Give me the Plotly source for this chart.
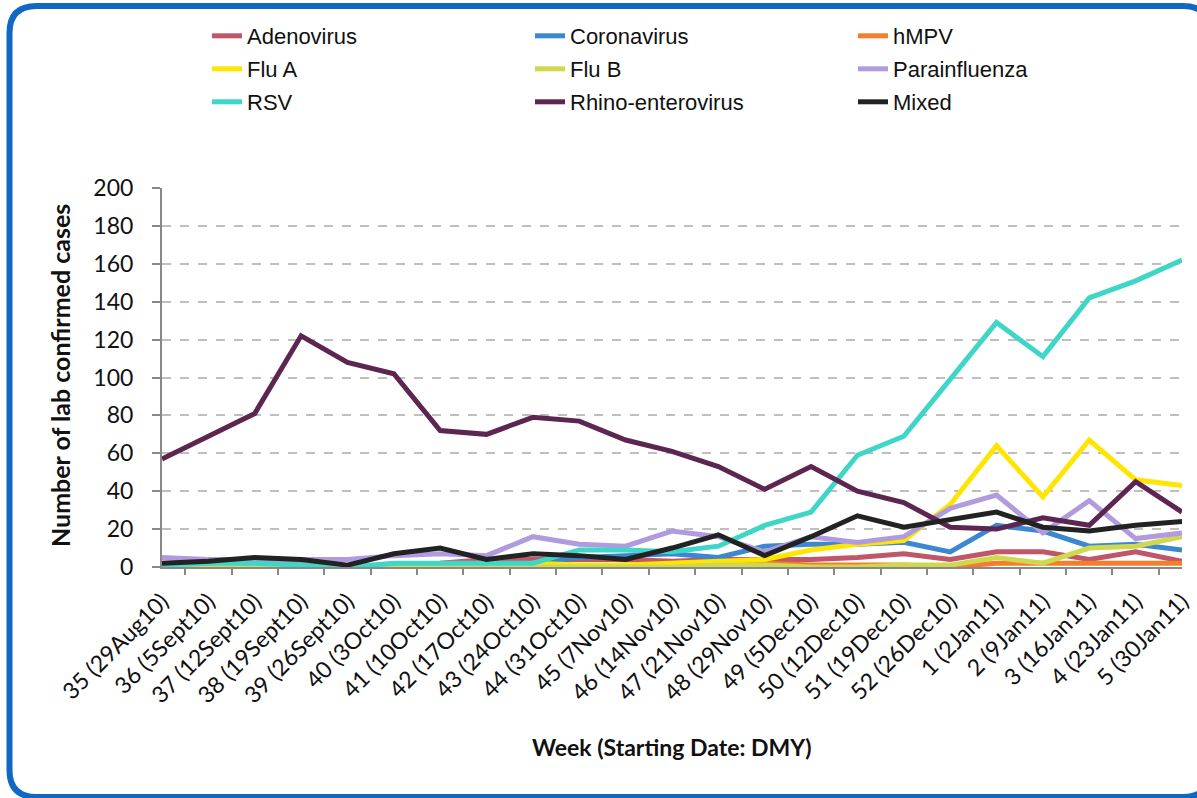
import plotly.graph_objects as go

# weekly lab confirmed cases, week 35 (2010) to week 5 (2011)
weeks = ['35 (29Aug10)', '36 (5Sept10)', '37 (12Sept10)', '38 (19Sept10)', '39 (26Sept10)',
         '40 (3Oct10)', '41 (10Oct10)', '42 (17Oct10)', '43 (24Oct10)', '44 (31Oct10)',
         '45 (7Nov10)', '46 (14Nov10)', '47 (21Nov10)', '48 (29Nov10)', '49 (5Dec10)',
         '50 (12Dec10)', '51 (19Dec10)', '52 (26Dec10)', '1 (2Jan11)', '2 (9Jan11)',
         '3 (16Jan11)', '4 (23Jan11)', '5 (30Jan11)']

adenovirus = [1, 1, 1, 1, 0, 1, 2, 4, 4, 4, 4, 3, 4, 4, 4, 5, 7, 4, 8, 8, 4, 8, 3]
coronavirus = [1, 1, 1, 1, 0, 1, 1, 1, 2, 5, 6, 7, 5, 11, 12, 12, 13, 8, 22, 19, 11, 12, 9]
hmpv = [0, 0, 0, 0, 0, 0, 0, 0, 0, 0, 1, 1, 1, 2, 1, 1, 1, 0, 2, 2, 2, 2, 2]
flu_a = [0, 0, 0, 0, 0, 0, 0, 0, 2, 1, 1, 2, 3, 4, 9, 12, 14, 33, 64, 37, 67, 46, 43]
flu_b = [0, 0, 0, 0, 0, 0, 0, 0, 0, 0, 0, 0, 1, 1, 0, 0, 1, 1, 5, 2, 10, 11, 16]
parainfluenza = [5, 4, 4, 4, 4, 6, 7, 6, 16, 12, 11, 19, 16, 8, 16, 13, 16, 31, 38, 18, 35, 15, 18]
rsv = [1, 2, 2, 1, 0, 2, 2, 2, 2, 9, 9, 8, 11, 22, 29, 59, 69, 99, 129, 111, 142, 151, 162]
rhino = [57, 69, 81, 122, 108, 102, 72, 70, 79, 77, 67, 61, 53, 41, 53, 40, 34, 21, 20, 26, 22, 45, 29]
mixed = [2, 3, 5, 4, 1, 7, 10, 4, 7, 6, 4, 10, 17, 6, 16, 27, 21, 25, 29, 21, 19, 22, 24]

series = [
    ('Adenovirus', adenovirus, '#C0566A', 'legend'),
    ('Coronavirus', coronavirus, '#3B87D0', 'legend'),
    ('hMPV', hmpv, '#F47E2A', 'legend'),
    ('Flu A', flu_a, '#FFE600', 'legend2'),
    ('Flu B', flu_b, '#D0D84E', 'legend2'),
    ('Parainfluenza', parainfluenza, '#B09BDE', 'legend2'),
    ('RSV', rsv, '#3ED6C6', 'legend3'),
    ('Rhino-enterovirus', rhino, '#5D2651', 'legend3'),
    ('Mixed', mixed, '#222222', 'legend3'),
]

W, H = 1197, 798
L, R, T, B = 162, 15, 188, 231

fig = go.Figure()
for name, vals, color, leg in series:
    fig.add_trace(go.Scatter(x=weeks, y=vals, name=name, mode='lines',
                             line=dict(color=color, width=5), legend=leg))

legend_font = dict(family='Liberation Sans Narrow, Liberation Sans, sans-serif', size=22, color='#111')
def row_legend(ypx):
    return dict(orientation='h', xref='container', yref='container', x=207 / W, y=1 - ypx / H,
                xanchor='left', yanchor='middle', entrywidth=278, entrywidthmode='pixels',
                font=legend_font, bgcolor='rgba(0,0,0,0)', itemwidth=30)

# rounded border around the chart, in paper coords
pw, ph = W - L - R, H - T - B
def px(x):
    return (x - L) / pw
def py(y):
    return (H - B - y) / ph
x0, x1, y0, y1, r = 9.5, 1210, 6, 797, 27
path = (f'M {px(x0 + r)},{py(y0)} L {px(x1 - r)},{py(y0)} Q {px(x1)},{py(y0)} {px(x1)},{py(y0 + r)} '
        f'L {px(x1)},{py(y1 - r)} Q {px(x1)},{py(y1)} {px(x1 - r)},{py(y1)} '
        f'L {px(x0 + r)},{py(y1)} Q {px(x0)},{py(y1)} {px(x0)},{py(y1 - r)} '
        f'L {px(x0)},{py(y0 + r)} Q {px(x0)},{py(y0)} {px(x0 + r)},{py(y0)} Z')

fig.update_layout(
    width=W, height=H,
    paper_bgcolor='white', plot_bgcolor='white',
    margin=dict(l=L, r=R, t=T, b=B, autoexpand=False),
    font=dict(family='Lato, Liberation Sans, sans-serif', color='#111'),
    legend=row_legend(36), legend2=row_legend(69), legend3=row_legend(102),
    shapes=[dict(type='path', xref='paper', yref='paper', path=path,
                 line=dict(color='#0E68C4', width=6), layer='above')],
    annotations=[
        dict(text='<b>Week (Starting Date: DMY)</b>', xref='paper', yref='paper',
             x=0.5, y=py(747), xanchor='center', yanchor='middle', showarrow=False, font=dict(size=23)),
        dict(text='<b>Number of lab confirmed cases</b>', xref='paper', yref='paper',
             x=px(60), y=py(376), xanchor='center', yanchor='middle', textangle=-90,
             showarrow=False, font=dict(size=25)),
    ],
)
fig.update_xaxes(type='category', tickangle=-45, tickfont=dict(size=23), ticklabelstandoff=10,
                 showline=True, linecolor='#888', linewidth=2,
                 ticks='outside', tickson='boundaries', ticklen=6, tickcolor='#888', tickwidth=2,
                 showgrid=False)
fig.update_yaxes(range=[0, 200], dtick=20, tickfont=dict(size=23), ticklabelstandoff=14,
                 showline=True, linecolor='#888', linewidth=2,
                 ticks='outside', ticklen=8, tickcolor='#888', tickwidth=2,
                 showgrid=True, gridcolor='#BFBFBF', gridwidth=2, griddash='dash', zeroline=False)

# page body has a default 8px margin; drop it so the figure sits at the window origin
fig.write_html('out.html', config={'displayModeBar': False},
               post_script="document.body.style.margin='0';")
